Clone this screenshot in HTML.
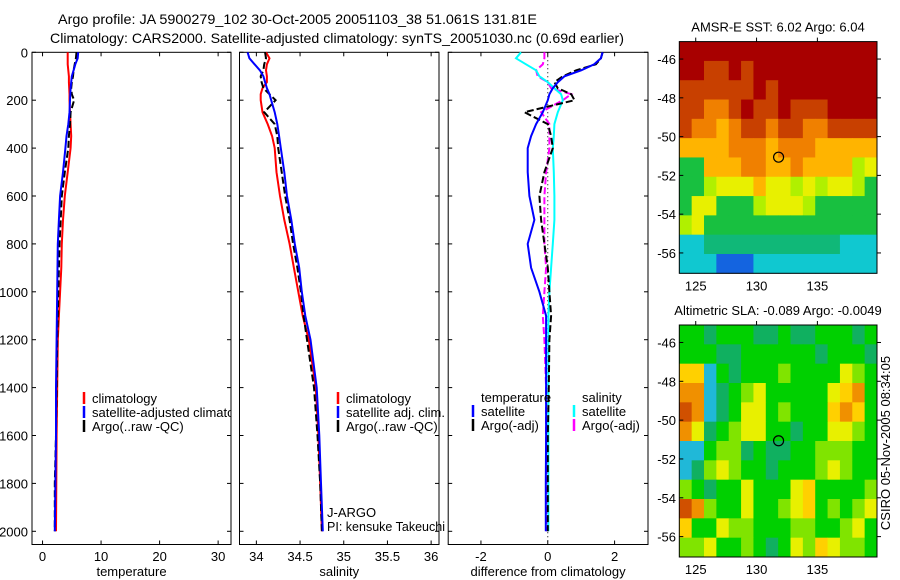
<!DOCTYPE html>
<html><head><meta charset="utf-8"><style>
html,body{margin:0;padding:0;background:#fff;}
svg{display:block;font-family:"Liberation Sans",sans-serif;}
</style></head><body>
<svg id="fig" width="900" height="580" viewBox="0 0 900 580" xmlns="http://www.w3.org/2000/svg">
<defs><clipPath id="clip1"><rect x="32" y="52" width="199" height="493"/></clipPath></defs>
<rect width="900" height="580" fill="#fff"/>
<text x="58" y="24" font-size="14" textLength="479" lengthAdjust="spacingAndGlyphs">Argo profile: JA 5900279_102 30-Oct-2005 20051103_38 51.061S 131.81E</text>
<text x="50" y="43" font-size="14" textLength="574" lengthAdjust="spacingAndGlyphs">Climatology: CARS2000. Satellite-adjusted climatology: synTS_20051030.nc (0.69d earlier)</text>
<g id="g1"></g>
<g id="g2"></g>
<g id="g3"></g>
<g id="m1"></g>
<g id="m2"></g>
<text transform="translate(890,443) rotate(-90)" font-size="13" text-anchor="middle">CSIRO 05-Nov-2005 08:34:05</text>
</svg>
<script>
const depths=[0,25,50,75,100,125,150,175,200,250,300,350,400,500,600,700,800,900,1000,1100,1200,1400,1600,1800,2000];
const depthTicks=[0,200,400,600,800,1000,1200,1400,1600,1800,2000];
const tempClim=[4.3,4.3,4.3,4.4,4.5,4.5,4.55,4.6,4.6,4.7,4.8,4.9,4.8,4.3,3.8,3.5,3.3,3.2,3.0,2.8,2.6,2.5,2.4,2.35,2.3];
const tempSat=[6.1,6.0,5.6,5.3,5.0,4.9,4.8,4.75,4.7,4.6,4.4,4.1,3.9,3.5,3.0,2.8,2.6,2.55,2.5,2.45,2.4,2.3,2.3,2.2,2.1];
const tempArgo=[5.8,5.7,5.5,5.3,5.2,5.0,4.9,5.0,5.4,4.8,4.7,4.5,4.4,3.8,3.3,3.1,2.9,2.8,2.7,2.6,2.5,2.4,2.3,2.1,2.1];
const tempTicks=[0,10,20,30];
const salClim=[34.11,34.15,34.12,34.11,34.12,34.12,34.07,34.05,34.05,34.07,34.13,34.18,34.21,34.23,34.27,34.32,34.38,34.43,34.48,34.53,34.60,34.68,34.71,34.73,34.75];
const salSat=[33.90,33.92,33.98,34.04,34.08,34.10,34.12,34.15,34.17,34.21,34.24,34.26,34.28,34.32,34.35,34.40,34.44,34.49,34.52,34.56,34.62,34.69,34.72,34.74,34.76];
const salArgo=[34.10,34.11,34.09,34.08,34.05,34.06,34.08,34.15,34.22,34.09,34.21,34.24,34.25,34.29,34.33,34.38,34.42,34.47,34.51,34.54,34.58,34.66,34.70,34.73,34.75];
const salTicks=[34,34.5,35,35.5,36];
const dTempSat=[1.64,1.59,1.39,1.0,0.5,0.3,0.15,0.05,0.0,-0.15,-0.35,-0.5,-0.6,-0.6,-0.55,-0.4,-0.6,-0.5,-0.25,-0.05,-0.05,-0.05,-0.05,-0.06,-0.06];
const dTempArgo=[1.64,1.59,1.44,0.85,0.45,0.2,0.3,0.7,0.8,-0.7,0.0,0.1,0.15,-0.1,-0.25,-0.2,-0.1,0.0,0.05,0.1,0.05,0.03,0.0,0.0,0.0];
const dSalSat=[-0.8,-0.95,-0.65,-0.35,-0.25,0.0,0.2,0.4,0.45,0.3,0.2,0.18,0.15,0.18,0.2,0.2,0.15,0.1,0.05,0.02,0.02,0.02,0.02,0.02,0.02];
const dSalArgo=[-0.1,-0.1,-0.15,-0.35,-0.3,0.0,0.1,0.7,0.45,-0.2,0.05,0.05,0.05,-0.05,-0.1,-0.1,-0.1,-0.05,-0.1,-0.15,-0.1,-0.05,-0.05,-0.03,-0.02];
const diffTicks=[-2,0,2];
const latTicks=[-46,-48,-50,-52,-54,-56];
const lonTicks=[125,130,135];
const argoPos=[131.81,-51.061];
const sstGrid=[
[9,9,9,9,9,9,9,9,9,9,9,9,9,9,9,9],
[9,9,8,8,9,8,9,9,9,9,9,9,9,9,9,9],
[8,8,8,8,8,8,9,8,9,9,9,9,9,9,9,9],
[8,8,7,7,8,9,8,8,9,8,8,8,9,9,9,9],
[8,7,7,6,7,8,8,7,8,8,7,7,8,8,8,8],
[6,6,6,6,7,7,7,6,7,7,7,6,6,6,6,6],
[3,3,6,6,6,7,7,6,6,7,6,6,6,6,4,5],
[3,3,4,5,5,5,6,5,5,4,5,4,5,5,4,3],
[3,5,5,3,3,3,4,5,5,5,4,3,3,3,3,3],
[4,5,3,3,3,3,3,3,3,3,3,3,3,3,3,3],
[1,1,2,2,2,2,2,2,2,2,2,2,2,1,1,1],
[1,1,1,0,0,0,1,1,1,1,1,1,1,1,1,1]];
const slaGrid=[
[3,3,2,3,3,3,2,2,3,2,2,3,3,3,2,3],
[3,3,3,2,2,3,3,3,3,3,3,2,3,3,3,2],
[6,6,1,3,2,3,3,3,4,3,3,3,3,5,4,3],
[7,7,1,2,3,4,5,3,3,3,3,3,5,6,7,3],
[8,7,1,2,3,5,5,3,4,3,3,3,6,7,6,3],
[7,5,2,3,4,5,5,3,3,2,3,3,5,5,4,3],
[1,1,3,4,4,2,3,2,2,3,3,4,4,4,3,3],
[1,2,4,5,4,3,3,2,3,3,3,4,5,4,3,3],
[4,3,2,3,3,5,3,3,3,5,6,3,3,3,3,4],
[8,7,4,3,3,5,3,3,4,5,6,3,4,3,4,5],
[6,3,3,5,4,4,3,3,3,4,4,3,3,4,5,3],
[4,4,5,3,3,4,3,2,3,5,4,6,5,4,4,3]];
const sstColors=["#1464e0","#10c8d0","#10b878","#18c040","#b0f000","#e8f000","#ffb400","#f08000","#c84000","#a80000"];
const slaColors=["#1464e0","#20b8d8","#10b060","#00d000","#80e400","#e8f000","#ffd000","#f09000","#d05000","#b83000"];

const NS="http://www.w3.org/2000/svg";
function mk(parent,tag,attrs,txt){const e=document.createElementNS(NS,tag);for(const k in attrs)e.setAttribute(k,attrs[k]);if(txt!==undefined)e.textContent=txt;parent.appendChild(e);return e;}
const Y0=52.3, PXM=0.2395;
function yD(d){return Y0+d*PXM;}
const B=544.5;

function panel(gid,x0,x1,dmin,dmax,ticks,fmt,xlabel,showY){
  const g=document.getElementById(gid);
  const xs=v=>x0+(v-dmin)/(dmax-dmin)*(x1-x0);
  const fr=mk(g,'rect',{x:x0,y:Y0,width:x1-x0,height:B-Y0,fill:'none',stroke:'#000','stroke-width':1});
  
  
  ticks.forEach(t=>{
    const X=xs(t);
    mk(g,'line',{x1:X,y1:B,x2:X,y2:B-4,stroke:'#000'});
    mk(g,'line',{x1:X,y1:Y0,x2:X,y2:Y0+4,stroke:'#000'});
    const tl=mk(g,'text',{x:X,y:561,'font-size':13,'text-anchor':'middle'},fmt(t));
    
    
  });
  depthTicks.forEach(d=>{
    const Y=yD(d);
    mk(g,'line',{x1:x0,y1:Y,x2:x0+4,y2:Y,stroke:'#000'});
    mk(g,'line',{x1:x1,y1:Y,x2:x1-4,y2:Y,stroke:'#000'});
    if(showY){const yl=mk(g,'text',{x:28,y:Y+5,'font-size':13,'text-anchor':'end'},String(d));
      
      }
  });
  const xt=mk(g,'text',{x:(x0+x1)/2,y:576,'font-size':13,'text-anchor':'middle'},xlabel);
  
  
  return xs;
}
function line(gid,xs,vals,color,dash,name,w){
  const g=document.getElementById(gid);
  const pts=vals.map((v,i)=>xs(v).toFixed(1)+','+yD(depths[i]).toFixed(1)).join(' ');
  const p=mk(g,'polyline',{points:pts,fill:'none',stroke:color,'stroke-width':w||2,'stroke-dasharray':dash||'none'});
  
  
}
function legend(gid,x,y,color,label,clip){
  const g=document.getElementById(gid);
  if(color) mk(g,'line',{x1:x,y1:y-6,x2:x,y2:y+6,stroke:color,'stroke-width':2.5});
  const t=mk(g,'text',{x:x+8,y:y+5,'font-size':13},label);
  if(clip) t.setAttribute('clip-path','url(#'+clip+')');
  
  
}

const xs1=panel('g1',32,231,-1.8,32.2,tempTicks,String,'temperature',true);
line('g1',xs1,tempClim,'#f00',null,'temperature-climatology-line');
line('g1',xs1,tempArgo,'#000','7,3','temperature-argo-line');
line('g1',xs1,tempSat,'#00f',null,'temperature-satellite-line');
legend('g1',84,398,'#f00','climatology');
legend('g1',84,412,'#00f','satellite-adjusted climatology','clip1');
legend('g1',84,426,'#000','Argo(..raw -QC)');

const xs2=panel('g2',239.5,439,33.807,36.09,salTicks,String,'salinity',false);
line('g2',xs2,salClim,'#f00',null,'salinity-climatology-line');
line('g2',xs2,salArgo,'#000','7,3','salinity-argo-line');
line('g2',xs2,salSat,'#00f',null,'salinity-satellite-line');
legend('g2',338,398,'#f00','climatology');
legend('g2',338,412,'#00f','satellite adj. clim.');
legend('g2',338,426,'#000','Argo(..raw -QC)');
const j1=mk(document.getElementById('g2'),'text',{x:327,y:517,'font-size':13},'J-ARGO');


const j2=mk(document.getElementById('g2'),'text',{x:327,y:531,'font-size':13,textLength:118,lengthAdjust:'spacingAndGlyphs'},'PI: kensuke Takeuchi');



const xs3=panel('g3',448.2,648,-2.98,3.0,diffTicks,String,'difference from climatology',false);
mk(document.getElementById('g3'),'line',{x1:xs3(0),y1:Y0,x2:xs3(0),y2:B,stroke:'#000','stroke-dasharray':'1,3'});
line('g3',xs3,dSalArgo,'#f0f','7,3','salinity-argo-diff-line');
line('g3',xs3,dSalSat,'#0ff',null,'salinity-satellite-diff-line');
line('g3',xs3,dTempArgo,'#000','7,3','temperature-argo-diff-line');
line('g3',xs3,dTempSat,'#00f',null,'temperature-satellite-diff-line');
legend('g3',473,411,'#00f','satellite');
legend('g3',473,425,'#000','Argo(-adj)');
legend('g3',574,411,'#0ff','satellite');
legend('g3',574,425,'#f0f','Argo(-adj)');
legend('g3',473,397,null,'temperature');
legend('g3',574,397,null,'salinity');

function map(gid,top,bottom,grid,colors,title){
  const g=document.getElementById(gid);
  const x0=679.3,x1=877,lonMin=123.65,lonMax=139.9,latTop=-45.1,latBot=-57.05;
  const lx=v=>x0+(v-lonMin)/(lonMax-lonMin)*(x1-x0);
  const ly=v=>top+(latTop-v)/(latTop-latBot)*(bottom-top);
  const nr=grid.length,nc=grid[0].length;
  const dLon=(lonMax-lonMin)/nc,dLat=(latTop-latBot)/nr;
  grid.forEach((row,r)=>row.forEach((v,c)=>{
    const xa=lx(lonMin+c*dLon),xb=lx(lonMin+(c+1)*dLon),ya=ly(latTop-r*dLat),yb=ly(latTop-(r+1)*dLat);
    const cell=mk(g,'rect',{x:xa.toFixed(2),y:ya.toFixed(2),width:(xb-xa+0.4).toFixed(2),height:(yb-ya+0.4).toFixed(2),fill:colors[v]});
    
    
  }));
  mk(g,'rect',{x:x0,y:top,width:x1-x0,height:bottom-top,fill:'none',stroke:'#000'});
  latTicks.forEach(t=>{const Y=ly(t);
    mk(g,'line',{x1:x0,y1:Y,x2:x0+4,y2:Y,stroke:'#000'});
    mk(g,'line',{x1:x1,y1:Y,x2:x1+4,y2:Y,stroke:'#000'});
    const tl=mk(g,'text',{x:676,y:Y+5,'font-size':13,'text-anchor':'end'},String(t));
    
    });
  lonTicks.forEach(t=>{const X=lx(t);
    mk(g,'line',{x1:X,y1:top,x2:X,y2:top-4,stroke:'#000'});
    const tl=mk(g,'text',{x:X,y:bottom+17,'font-size':13,'text-anchor':'middle'},String(t));
    
    });
  const c=mk(g,'circle',{cx:lx(argoPos[0]),cy:ly(argoPos[1]),r:5,fill:'none',stroke:'#000','stroke-width':1.2});
  
  
  const tt=mk(g,'text',{x:778,y:top-10,'font-size':13,'text-anchor':'middle'},title);
  
  
}
map('m1',41.6,273.3,sstGrid,sstColors,'AMSR-E SST: 6.02 Argo: 6.04');
map('m2',325,557,slaGrid,slaColors,'Altimetric SLA: -0.089 Argo: -0.0049');
</script>
</body></html>
